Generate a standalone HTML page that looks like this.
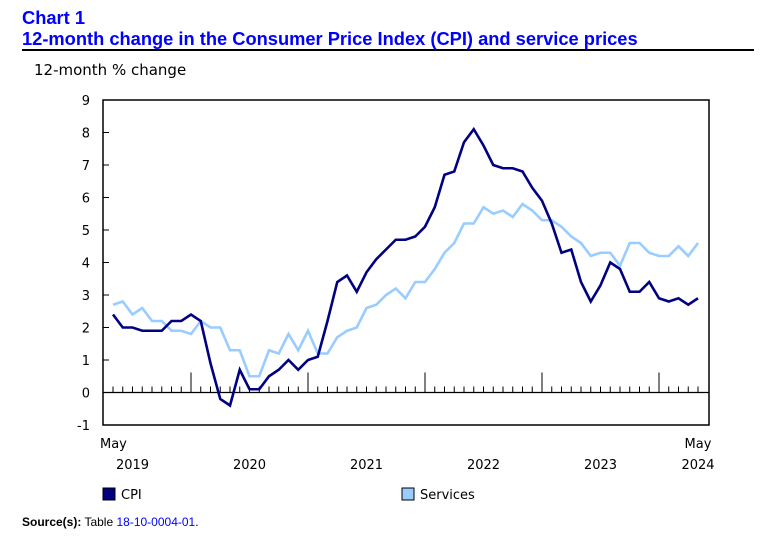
<!DOCTYPE html>
<html><head><meta charset="utf-8"><style>
body{margin:0;background:#fff;width:769px;height:539px;overflow:hidden;font-family:"Liberation Sans",sans-serif;}
#t1{position:absolute;left:22px;top:7px;color:#0000ff;font-weight:bold;font-size:18.3px;line-height:21px;}
#rule{position:absolute;left:22px;top:49px;width:732px;height:2px;background:#000;}
svg{position:absolute;left:0;top:0;}
#src{position:absolute;left:22px;top:515px;font-size:12px;}
#src a{color:#0000ff;text-decoration:none;}
</style></head><body>
<div id="t1">Chart 1<br>12-month change in the Consumer Price Index (CPI) and service prices</div>
<div id="rule"></div>
<svg id="chart" width="769" height="539"></svg>
<div id="src"><b>Source(s):</b> Table <a href="#">18-10-0004-01</a>.</div>
<script>
const cpi=[2.4,2.0,2.0,1.9,1.9,1.9,2.2,2.2,
2.4,2.2,0.9,-0.2,-0.4,0.7,0.1,0.1,0.5,0.7,1.0,0.7,
1.0,1.1,2.2,3.4,3.6,3.1,3.7,4.1,4.4,4.7,4.7,4.8,
5.1,5.7,6.7,6.8,7.7,8.1,7.6,7.0,6.9,6.9,6.8,6.3,
5.9,5.2,4.3,4.4,3.4,2.8,3.3,4.0,3.8,3.1,3.1,3.4,
2.9,2.8,2.9,2.7,2.9];
const services=[2.7,2.8,2.4,2.6,2.2,2.2,1.9,1.9,
1.8,2.2,2.0,2.0,1.3,1.3,0.5,0.5,1.3,1.2,1.8,1.3,
1.9,1.2,1.2,1.7,1.9,2.0,2.6,2.7,3.0,3.2,2.9,3.4,
3.4,3.8,4.3,4.6,5.2,5.2,5.7,5.5,5.6,5.4,5.8,5.6,
5.3,5.3,5.1,4.8,4.6,4.2,4.3,4.3,3.9,4.6,4.6,4.3,
4.2,4.2,4.5,4.2,4.6];
const yTicks=[9,8,7,6,5,4,3,2,1,0,-1];
const yearLabels=["2019","2020","2021","2022","2023","2024"];
const ns="http://www.w3.org/2000/svg";
const FF='DejaVu Sans, sans-serif';
const svg=document.getElementById('chart');
const L=103,R=709,T=100,B=425;
const y=v=>T+(9-v)*(B-T)/10;
const x=i=>113+i*(698-113)/(cpi.length-1);
function mk(tag,attrs,parent){const e=document.createElementNS(ns,tag);for(const k in attrs)e.setAttribute(k,attrs[k]);(parent||svg).appendChild(e);return e;}
let t=mk('text',{x:34,y:75,'font-size':15,'font-family':FF});


t.textContent='12-month % change';
let f=mk('rect',{x:L,y:T,width:R-L,height:B-T,fill:'none',stroke:'#000','stroke-width':1.5});


yTicks.forEach(v=>{
 let l=mk('line',{x1:L,x2:L+6,y1:y(v),y2:y(v),stroke:'#000'});
 
 
 let tx=mk('text',{x:L-13,y:y(v)+5,'text-anchor':'end','font-size':13,'font-family':FF});
 
 
 tx.textContent=v;
});
let z=mk('line',{x1:L,x2:R,y1:y(0),y2:y(0),stroke:'#000','stroke-width':1.2});


for(let i=0;i<cpi.length;i++){
 const yr=(i-8)%12===0;
 let l=mk('line',{x1:x(i),x2:x(i),y1:y(0),y2:y(0)-(yr?20:6),stroke:'#000'});
 
 
}
yearLabels.forEach((s,k)=>{
 const i=Math.min(2+12*k,cpi.length-1);
 let tx=mk('text',{x:x(i),y:469,'text-anchor':'middle','font-size':13,'font-family':FF});
 
 
 tx.textContent=s;
});
[[0,'start',100],[60,'middle',698]].forEach(a=>{
 let tx=mk('text',{x:a[2],y:448,'text-anchor':a[1],'font-size':13,'font-family':FF});
 
 
 tx.textContent='May';
});
function line(arr,col,name){
 let p=mk('polyline',{points:arr.map((v,i)=>x(i)+','+y(v)).join(' '),fill:'none',stroke:col,'stroke-width':2.6,'stroke-linejoin':'miter'});
 
 
}
line(services,'#99ccff','services-line');
line(cpi,'#000080','cpi-line');
[[103,'#000080','CPI','legend-cpi'],[402,'#99ccff','Services','legend-services']].forEach(a=>{
 let g=mk('g',{});
 
 
 mk('rect',{x:a[0],y:488,width:12,height:12,fill:a[1],stroke:'#000','stroke-width':1},g);
 let tx=mk('text',{x:a[0]+18,y:499,'font-size':13,'font-family':FF},g);
 tx.textContent=a[2];
});
</script>
</body></html>
